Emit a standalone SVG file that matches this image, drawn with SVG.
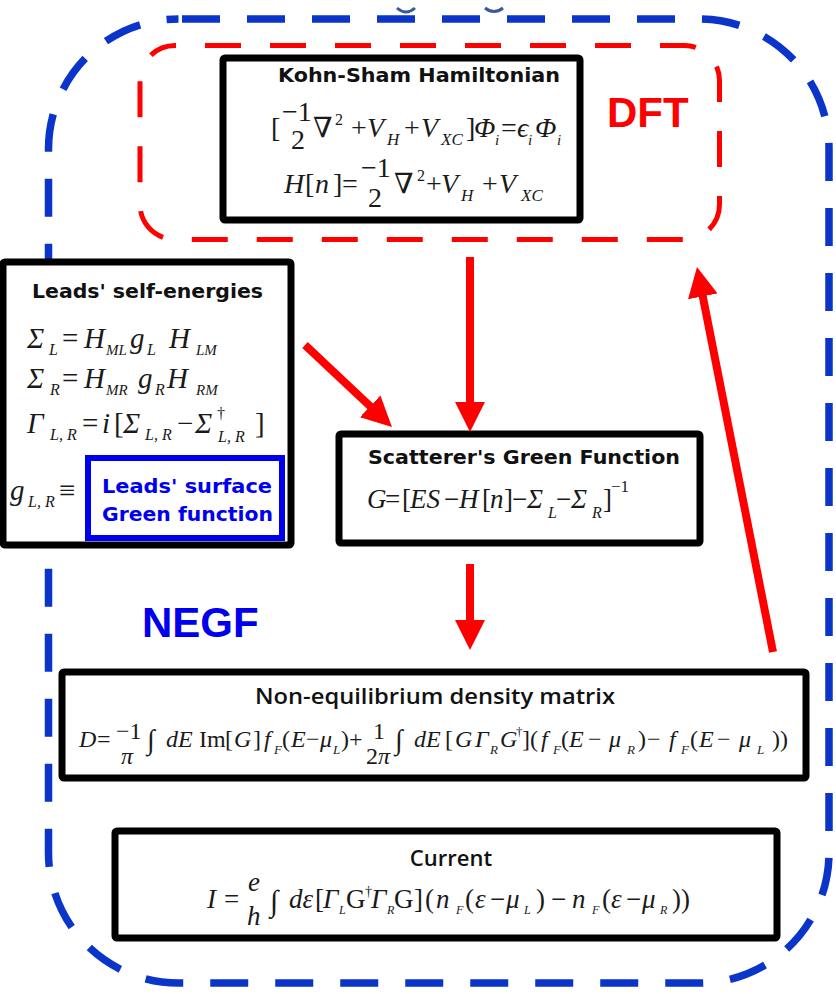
<svg xmlns="http://www.w3.org/2000/svg" width="836" height="994" viewBox="0 0 836 994">
<defs>
<marker id="ah" markerUnits="userSpaceOnUse" markerWidth="30" markerHeight="30" refX="2" refY="15" orient="auto" viewBox="0 0 30 30"><path d="M0,0 L30,15 L0,30 z" fill="#ff0000"/></marker>
</defs>
<style>
.box{fill:#fff;stroke:#000;stroke-width:7}
.t{font-family:"DejaVu Sans","Liberation Sans",sans-serif;font-weight:bold;font-size:20px;fill:#111}
.t2{font-family:"Open Sans","Liberation Sans",sans-serif;font-weight:600;font-size:22px;fill:#111}
.m{font-family:"Liberation Serif","DejaVu Serif",serif;font-style:italic;fill:#1a1a1a}
.u{font-family:"Liberation Serif","DejaVu Serif",serif;font-style:normal;fill:#1a1a1a}
.big{font-family:"Liberation Sans",Arial,sans-serif;font-weight:bold;font-size:42px}
.arrow{stroke:#ff0000;stroke-width:8;fill:none;marker-end:url(#ah)}
</style>
<rect width="836" height="994" fill="#fff"/>
<!-- top artifacts -->
<path d="M397,8 Q406,16 415,8" fill="none" stroke="#3d5a96" stroke-width="3"/>
<path d="M485,8 Q494,15 503,8" fill="none" stroke="#3d5a96" stroke-width="3"/>

<g id="negf-region">
<rect x="48.5" y="19" width="780.5" height="964" rx="130" fill="none" stroke="#0a35c8" stroke-width="7.5" stroke-dasharray="38 27" stroke-dashoffset="61.5"/>
<text class="big" x="142" y="637" fill="#0000ee">NEGF</text>
</g>
<g id="dft-region">
<rect x="140" y="45.5" width="579.5" height="194" rx="35" fill="none" stroke="#ff0000" stroke-width="5" stroke-dasharray="36 29" stroke-dashoffset="35"/>
<text class="big" x="607" y="127" fill="#ff0000">DFT</text>
</g>

<g id="kohn-sham">
<rect class="box" x="223" y="58" width="357" height="162" rx="2" stroke-width="6"/>
<text class="t" x="278" y="82" textLength="282" lengthAdjust="spacingAndGlyphs">Kohn-Sham Hamiltonian</text>
<text class="u" font-size="28"><tspan x="271" y="137">[</tspan><tspan x="282" y="121">−1</tspan><tspan x="291" y="149">2</tspan><tspan x="313" y="137">∇</tspan><tspan x="335" y="125" font-size="16">2</tspan><tspan x="351" y="137">+</tspan><tspan class="m" x="367" y="137">V</tspan><tspan class="m" x="387" y="145" font-size="17">H</tspan><tspan x="404" y="137">+</tspan><tspan class="m" x="421" y="137">V</tspan><tspan class="m" x="441" y="145" font-size="17">XC</tspan><tspan x="466" y="137">]</tspan><tspan class="m" x="474" y="137">Φ</tspan><tspan class="m" x="495" y="145" font-size="15">i</tspan><tspan x="501" y="137">=</tspan><tspan class="m" x="517" y="137">ϵ</tspan><tspan class="m" x="528" y="145" font-size="15">i</tspan><tspan class="m" x="535" y="137">Φ</tspan><tspan class="m" x="557" y="145" font-size="15">i</tspan></text>
<text class="u" font-size="28"><tspan class="m" x="284" y="193">H</tspan><tspan x="305" y="193">[</tspan><tspan class="m" x="315" y="193">n</tspan><tspan x="333" y="193">]</tspan><tspan x="342" y="193">=</tspan><tspan x="361" y="177">−1</tspan><tspan x="368" y="207">2</tspan><tspan x="394" y="193">∇</tspan><tspan x="417" y="181" font-size="16">2</tspan><tspan x="426" y="193">+</tspan><tspan class="m" x="441" y="193">V</tspan><tspan class="m" x="461" y="201" font-size="17">H</tspan><tspan x="482" y="193">+</tspan><tspan class="m" x="499" y="193">V</tspan><tspan class="m" x="521" y="201" font-size="17">XC</tspan></text>
</g>

<g id="leads">
<rect class="box" x="3" y="262" width="288" height="283" rx="2"/>
<text class="t" x="32" y="298" textLength="231" lengthAdjust="spacingAndGlyphs">Leads' self-energies</text>
<text class="m" font-size="29"><tspan x="27" y="348">Σ</tspan><tspan x="49" y="355" font-size="16">L</tspan><tspan class="u" x="62" y="348">=</tspan><tspan x="84" y="348">H</tspan><tspan x="106" y="355" font-size="15">ML</tspan><tspan x="130" y="348">g</tspan><tspan x="147" y="355" font-size="16">L</tspan><tspan x="169" y="348">H</tspan><tspan x="196" y="355" font-size="15">LM</tspan></text>
<text class="m" font-size="29"><tspan x="27" y="388">Σ</tspan><tspan x="50" y="395" font-size="16">R</tspan><tspan class="u" x="62" y="388">=</tspan><tspan x="84" y="388">H</tspan><tspan x="106" y="395" font-size="15">MR</tspan><tspan x="138" y="388">g</tspan><tspan x="155" y="395" font-size="16">R</tspan><tspan x="167" y="388">H</tspan><tspan x="196" y="395" font-size="15">RM</tspan></text>
<text class="m" font-size="29"><tspan x="27" y="433">Γ</tspan><tspan x="50" y="440" font-size="16">L, R</tspan><tspan class="u" x="82" y="433">=</tspan><tspan x="102" y="433">i</tspan><tspan class="u" x="114" y="433">[</tspan><tspan x="123" y="433">Σ</tspan><tspan x="145" y="440" font-size="16">L, R</tspan><tspan class="u" x="177" y="433">−</tspan><tspan x="195" y="433">Σ</tspan><tspan class="u" x="217" y="419" font-size="16">†</tspan><tspan x="218" y="442" font-size="16">L, R</tspan><tspan class="u" x="255" y="433">]</tspan></text>
<text class="m" font-size="29"><tspan x="10" y="500">g</tspan><tspan x="28" y="507" font-size="16">L, R</tspan><tspan class="u" x="59" y="500">≡</tspan></text>
</g>

<g id="surface-green">
<rect x="88" y="458" width="194" height="80" fill="#fff" stroke="#0000ee" stroke-width="6"/>
<text class="t" x="102" y="493" font-size="21" style="fill:#0000ee" textLength="170" lengthAdjust="spacingAndGlyphs">Leads' surface</text>
<text class="t" x="102" y="521" font-size="21" style="fill:#0000ee" textLength="171" lengthAdjust="spacingAndGlyphs">Green function</text>
</g>

<g id="scatterer">
<rect class="box" x="339" y="434" width="361" height="109" rx="2"/>
<text class="t" x="368" y="464" textLength="312" lengthAdjust="spacingAndGlyphs">Scatterer's Green Function</text>
<text class="u" font-size="27"><tspan class="m" x="367" y="508">G</tspan><tspan x="385" y="508">=</tspan><tspan x="402" y="508">[</tspan><tspan class="m" x="410" y="508">ES</tspan><tspan x="444" y="508">−</tspan><tspan class="m" x="459" y="508">H</tspan><tspan x="482" y="508">[</tspan><tspan class="m" x="490" y="508">n</tspan><tspan x="504" y="508">]</tspan><tspan x="512" y="508">−</tspan><tspan class="m" x="527" y="508">Σ</tspan><tspan class="m" x="548" y="518" font-size="16">L</tspan><tspan x="556" y="508">−</tspan><tspan class="m" x="571" y="508">Σ</tspan><tspan class="m" x="592" y="518" font-size="16">R</tspan><tspan x="603" y="508">]</tspan><tspan x="611" y="492" font-size="17">−1</tspan></text>
</g>

<g id="density-matrix">
<rect class="box" x="62" y="672" width="744" height="106" rx="2"/>
<text class="t2" x="255" y="704" textLength="360" lengthAdjust="spacingAndGlyphs">Non-equilibrium density matrix</text>
<text class="u" font-size="24"><tspan class="m" x="79" y="747">D</tspan><tspan x="97" y="747">=</tspan><tspan x="116" y="739">−1</tspan><tspan class="m" x="121" y="764">π</tspan><tspan x="147" y="749" font-size="28">∫</tspan><tspan class="m" x="166" y="747">dE</tspan><tspan x="199" y="747">Im</tspan><tspan x="225" y="747">[</tspan><tspan class="m" x="234" y="747">G</tspan><tspan x="253" y="747">]</tspan><tspan class="m" x="264" y="747">f</tspan><tspan class="m" x="274" y="754" font-size="13">F</tspan><tspan x="282" y="747">(</tspan><tspan class="m" x="291" y="747">E</tspan><tspan x="306" y="747">−</tspan><tspan class="m" x="320" y="747">μ</tspan><tspan class="m" x="333" y="754" font-size="13">L</tspan><tspan x="341" y="747">)</tspan><tspan x="349" y="747">+</tspan><tspan x="373" y="739">1</tspan><tspan x="366" y="764">2</tspan><tspan class="m" x="378" y="764">π</tspan><tspan x="395" y="749" font-size="28">∫</tspan><tspan class="m" x="414" y="747">dE</tspan><tspan x="445" y="747">[</tspan><tspan class="m" x="455" y="747">G</tspan><tspan class="m" x="475" y="747">Γ</tspan><tspan class="m" x="490" y="754" font-size="13">R</tspan><tspan class="m" x="500" y="747">G</tspan><tspan x="516" y="736" font-size="13">†</tspan><tspan x="522" y="747">]</tspan><tspan x="530" y="747">(</tspan><tspan class="m" x="541" y="747">f</tspan><tspan class="m" x="553" y="754" font-size="13">F</tspan><tspan x="561" y="747">(</tspan><tspan class="m" x="569" y="747">E</tspan><tspan x="588" y="747">−</tspan><tspan class="m" x="609" y="747">μ</tspan><tspan class="m" x="627" y="754" font-size="13">R</tspan><tspan x="638" y="747">)</tspan><tspan x="647" y="747">−</tspan><tspan class="m" x="669" y="747">f</tspan><tspan class="m" x="681" y="754" font-size="13">F</tspan><tspan x="690" y="747">(</tspan><tspan class="m" x="699" y="747">E</tspan><tspan x="717" y="747">−</tspan><tspan class="m" x="739" y="747">μ</tspan><tspan class="m" x="757" y="754" font-size="13">L</tspan><tspan x="772" y="747">))</tspan></text>
</g>

<g id="current">
<rect class="box" x="115" y="831" width="662" height="107" rx="2"/>
<text class="t2" x="451" y="866" text-anchor="middle">Current</text>
<text class="u" font-size="27"><tspan class="m" x="207" y="908">I</tspan><tspan x="224" y="908">=</tspan><tspan class="m" x="248" y="891">e</tspan><tspan class="m" x="247" y="925">h</tspan><tspan x="270" y="911" font-size="30">∫</tspan><tspan class="m" x="289" y="908">dε</tspan><tspan x="315" y="908">[</tspan><tspan class="m" x="323" y="908">Γ</tspan><tspan class="m" x="339" y="914" font-size="12">L</tspan><tspan x="346" y="908">G</tspan><tspan x="365" y="896" font-size="14">†</tspan><tspan class="m" x="371" y="908">Γ</tspan><tspan class="m" x="387" y="914" font-size="12">R</tspan><tspan x="394" y="908">G</tspan><tspan x="414" y="908">]</tspan><tspan x="425" y="908">(</tspan><tspan class="m" x="436" y="908">n</tspan><tspan class="m" x="456" y="914" font-size="12">F</tspan><tspan x="465" y="908">(</tspan><tspan class="m" x="475" y="908">ε</tspan><tspan x="490" y="908">−</tspan><tspan class="m" x="506" y="908">μ</tspan><tspan class="m" x="524" y="914" font-size="12">L</tspan><tspan x="536" y="908">)</tspan><tspan x="551" y="908">−</tspan><tspan class="m" x="572" y="908">n</tspan><tspan class="m" x="592" y="914" font-size="12">F</tspan><tspan x="602" y="908">(</tspan><tspan class="m" x="611" y="908">ε</tspan><tspan x="626" y="908">−</tspan><tspan class="m" x="642" y="908">μ</tspan><tspan class="m" x="660" y="914" font-size="12">R</tspan><tspan x="672" y="908">))</tspan></text>
</g>

<g id="connectors">
<line class="arrow" x1="470" y1="257" x2="470" y2="404"/>
<line class="arrow" x1="305" y1="345" x2="371.6" y2="407.7"/>
<line class="arrow" x1="470" y1="564" x2="470" y2="622"/>
<line class="arrow" x1="773" y1="652" x2="702.4" y2="294.4"/>
</g>
</svg>
